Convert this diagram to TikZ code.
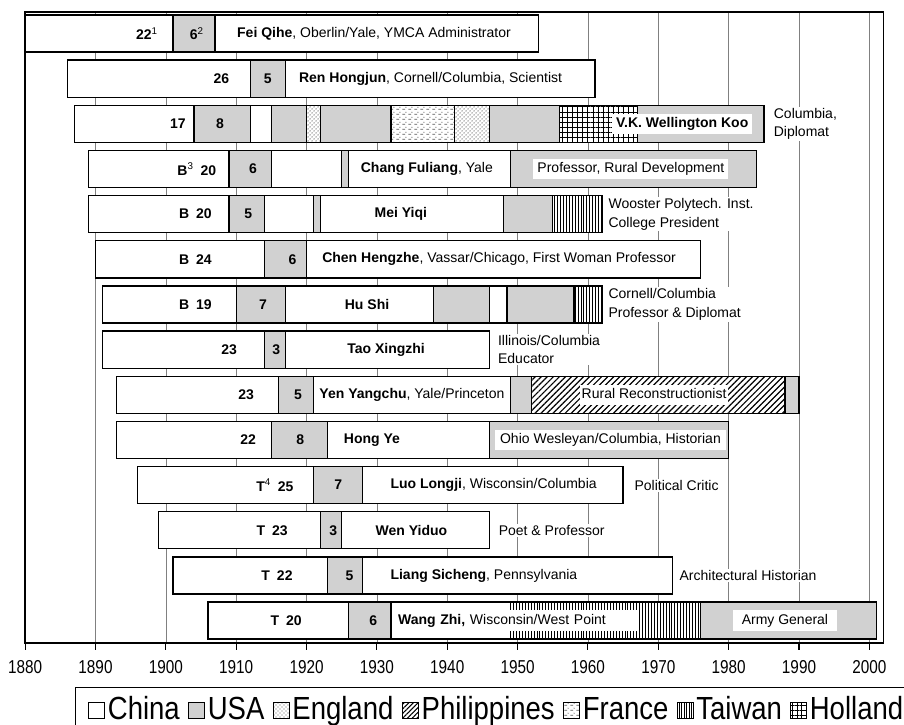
\documentclass[tikz,border=0pt]{standalone}
\usepackage{fontspec}
\setmainfont{Liberation Sans}
\newfontfamily\narrowfont[FakeStretch=0.82]{Liberation Sans}
\newfontfamily\legendfont[FakeStretch=0.86]{Liberation Sans}
\usetikzlibrary{patterns,patterns.meta,positioning}

\definecolor{usgray}{gray}{0.82}
\definecolor{gridgray}{gray}{0.5}

\tikzdeclarepattern{
  name=frdash, type=uncolored,
  bounding box={(0,0) and (4.5pt,3.6pt)},
  tile size={(4.5pt,3.6pt)},
  code={
    \fill (0.3pt,0.3pt) rectangle (2.7pt,0.9pt);
    \fill (3.4pt,2.1pt) circle (0.45pt);
  }
}

% one piece of a life bar: style, row, from year, to year
\newcommand{\lifeseg}[4]{\draw[#1] (#3,#2-0.41) rectangle (#4,#2+0.41);}

\begin{document}
\fontsize{10.5}{12.6}\selectfont
\begin{tikzpicture}[x={(5.276pt,0)}, y={(0,-33.87pt)},
  seg/.style={draw=black, line width=1pt},
  cn/.style={seg, fill=white},
  us/.style={seg, fill=usgray},
  en/.style={seg, preaction={fill=white}, pattern=crosshatch dots, pattern color=black!60},
  fr/.style={seg, preaction={fill=white}, pattern=frdash, pattern color=black!65},
  ph/.style={seg, preaction={fill=white}, pattern={Lines[angle=45,distance=3.2pt,line width=0.9pt]}},
  tw/.style={seg, preaction={fill=white}, pattern={Lines[angle=90,distance=2.2pt,line width=0.5pt]}},
  nl/.style={seg, preaction={fill=white}, pattern={Hatch[angle=0,distance=3.8pt,line width=0.5pt]}},
  num/.style={font=\bfseries, inner sep=0pt},
  who/.style={anchor=west, inner sep=0pt},
  tag/.style={fill=white, inner xsep=3pt, inner ysep=2.5pt, text height=7.8pt, text depth=2.4pt},
  note/.style={anchor=west, align=left, fill=white, inner sep=1pt, font=\fontsize{10.5}{14}\selectfont},
  yrlbl/.style={font=\narrowfont\fontsize{14}{16}\selectfont},
  key/.style={draw, line width=0.6pt, minimum size=12pt, inner sep=0pt},
  lbl/.style={font=\legendfont\fontsize{24}{27}\selectfont, inner sep=0pt, text height=17.2pt, text depth=3pt}]
\useasboundingbox (1876.45,0.258) rectangle (2004.95,16.31);

% grid and frame
\foreach \yr in {1890,1900,...,2000}
  \draw[gridgray, line width=0.5pt] (\yr,0.52) -- (\yr,14.5);
\draw[line width=1.1pt] (1880,0.52) rectangle (2002,14.5);
\foreach \yr in {1880,1890,...,2000} {
  \draw[line width=0.8pt] (\yr,14.5) -- (\yr,14.64);
  \node[yrlbl] (yr\yr) at (\yr,15.02) {\yr};
}

% Fei Qihe
\lifeseg{cn}{1}{1880}{1901}
\lifeseg{us}{1}{1901}{1907}
\lifeseg{cn}{1}{1907}{1953}
\node[num] (fei-a) at (1897.3,1) {22\textsuperscript{\mdseries 1}};
\node[num] (fei-b) at (1904.4,1) {6\textsuperscript{\mdseries 2}};
\node[who] (fei-c) at (1910.1,1) {\textbf{Fei Qihe}, Oberlin/Yale, YMCA Administrator};

% Ren Hongjun
\lifeseg{cn}{2}{1886}{1912}
\lifeseg{us}{2}{1912}{1917}
\lifeseg{cn}{2}{1917}{1961}
\node[num] (ren-a) at (1907.9,2) {26};
\node[num] (ren-b) at (1914.5,2) {5};
\node[who] (ren-c) at (1918.9,2) {\textbf{Ren Hongjun}, Cornell/Columbia, Scientist};

% Wellington Koo
\lifeseg{cn}{3}{1887}{1904}
\lifeseg{us}{3}{1904}{1912}
\lifeseg{cn}{3}{1912}{1915}
\lifeseg{us}{3}{1915}{1920}
\lifeseg{en}{3}{1920}{1922}
\lifeseg{us}{3}{1922}{1932}
\lifeseg{fr}{3}{1932}{1941}
\lifeseg{en}{3}{1941}{1946}
\lifeseg{us}{3}{1946}{1956}
\lifeseg{nl}{3}{1956}{1967}
\lifeseg{us}{3}{1967}{1985}
\node[num] (koo-a) at (1901.7,3) {17};
\node[num] (koo-b) at (1907.7,3) {8};
\node[tag, font=\bfseries] (koo-c) at (1973.4,3) {V.K. Wellington Koo};
\node[note] (koo-d) at (1986.2,3) {Columbia,\\Diplomat};

% Chang Fuliang
\lifeseg{cn}{4}{1889}{1909}
\lifeseg{us}{4}{1909}{1915}
\lifeseg{cn}{4}{1915}{1925}
\lifeseg{us}{4}{1925}{1926}
\lifeseg{cn}{4}{1926}{1949}
\lifeseg{us}{4}{1949}{1984}
\node[num] (chang-a) at (1904.4,4) {B\textsuperscript{\mdseries 3}\enspace 20};
\node[num] (chang-b) at (1912.4,4) {6};
\node[inner sep=0pt] (chang-c) at (1937.1,4) {\textbf{Chang Fuliang}, Yale};
\node[tag] (chang-d) at (1966.1,4) {Professor, Rural Development};

% Mei Yiqi
\lifeseg{cn}{5}{1889}{1909}
\lifeseg{us}{5}{1909}{1914}
\lifeseg{cn}{5}{1914}{1921}
\lifeseg{us}{5}{1921}{1922}
\lifeseg{cn}{5}{1922}{1948}
\lifeseg{us}{5}{1948}{1955}
\lifeseg{tw}{5}{1955}{1962}
\node[num] (mei-a) at (1904.2,5) {B\enspace 20};
\node[num] (mei-b) at (1911.7,5) {5};
\node[num] (mei-c) at (1933.4,5) {Mei Yiqi};
\node[note] (mei-d) at (1962.7,5) {Wooster Polytech. Inst.\\College President};

% Chen Hengzhe
\lifeseg{cn}{6}{1890}{1914}
\lifeseg{us}{6}{1914}{1920}
\lifeseg{cn}{6}{1920}{1976}
\node[num] (chen-a) at (1904.2,6) {B\enspace 24};
\node[num] (chen-b) at (1918,6) {6};
\node[who] (chen-c) at (1922.2,6) {\textbf{Chen Hengzhe}, Vassar/Chicago, First Woman Professor};

% Hu Shi
\lifeseg{cn}{7}{1891}{1910}
\lifeseg{us}{7}{1910}{1917}
\lifeseg{cn}{7}{1917}{1938}
\lifeseg{us}{7}{1938}{1946}
\lifeseg{cn}{7}{1946}{1948.5}
\lifeseg{us}{7}{1948.5}{1958}
\lifeseg{tw}{7}{1958}{1962}
\node[num] (hu-a) at (1904.2,7) {B\enspace 19};
\node[num] (hu-b) at (1913.8,7) {7};
\node[num] (hu-c) at (1928.6,7) {Hu Shi};
\node[note] (hu-d) at (1962.7,7) {Cornell/Columbia\\Professor \& Diplomat};

% Tao Xingzhi
\lifeseg{cn}{8}{1891}{1914}
\lifeseg{us}{8}{1914}{1917}
\lifeseg{cn}{8}{1917}{1946}
\node[num] (tao-a) at (1909,8) {23};
\node[num] (tao-b) at (1915.7,8) {3};
\node[num] (tao-c) at (1931.3,8) {Tao Xingzhi};
\node[note] (tao-d) at (1947,8) {Illinois/Columbia\\Educator};

% Yen Yangchu
\lifeseg{cn}{9}{1893}{1916}
\lifeseg{us}{9}{1916}{1921}
\lifeseg{cn}{9}{1921}{1949}
\lifeseg{us}{9}{1949}{1952}
\lifeseg{ph}{9}{1952}{1988}
\lifeseg{us}{9}{1988}{1990}
\node[num] (yen-a) at (1911.4,9) {23};
\node[num] (yen-b) at (1918.8,9) {5};
\node[who] (yen-c) at (1921.8,9) {\textbf{Yen Yangchu}, Yale/Princeton};
\node[tag, inner xsep=1pt] (yen-d) at (1969.4,9) {Rural Reconstructionist};

% Hong Ye
\lifeseg{cn}{10}{1893}{1915}
\lifeseg{us}{10}{1915}{1923}
\lifeseg{cn}{10}{1923}{1946}
\lifeseg{us}{10}{1946}{1980}
\node[num] (hong-a) at (1911.7,10) {22};
\node[num] (hong-b) at (1919.1,10) {8};
\node[num] (hong-c) at (1929.3,10) {Hong Ye};
\node[tag, inner xsep=4pt] (hong-d) at (1963.2,10) {Ohio Wesleyan/Columbia, Historian};

% Luo Longji
\lifeseg{cn}{11}{1896}{1921}
\lifeseg{us}{11}{1921}{1928}
\lifeseg{cn}{11}{1928}{1965}
\node[num] (luo-a) at (1915.5,11) {T\textsuperscript{\mdseries 4}\enspace 25};
\node[num] (luo-b) at (1924.5,11) {7};
\node[who] (luo-c) at (1931.9,11) {\textbf{Luo Longji}, Wisconsin/Columbia};
\node[note] (luo-d) at (1966.4,11) {Political Critic};

% Wen Yiduo
\lifeseg{cn}{12}{1899}{1922}
\lifeseg{us}{12}{1922}{1925}
\lifeseg{cn}{12}{1925}{1946}
\node[num] (wen-a) at (1915.1,12) {T\enspace 23};
\node[num] (wen-b) at (1923.8,12) {3};
\node[num] (wen-c) at (1934.9,12) {Wen Yiduo};
\node[note] (wen-d) at (1947.1,12) {Poet \& Professor};

% Liang Sicheng
\lifeseg{cn}{13}{1901}{1923}
\lifeseg{us}{13}{1923}{1928}
\lifeseg{cn}{13}{1928}{1972}
\node[num] (liang-a) at (1915.8,13) {T\enspace 22};
\node[num] (liang-b) at (1926.1,13) {5};
\node[who] (liang-c) at (1931.9,13) {\textbf{Liang Sicheng}, Pennsylvania};
\node[note] (liang-d) at (1972.8,13) {Architectural Historian};

% Wang Zhi
\lifeseg{cn}{14}{1906}{1926}
\lifeseg{us}{14}{1926}{1932}
\lifeseg{cn}{14}{1932}{1949}
\lifeseg{tw}{14}{1949}{1976}
\lifeseg{us}{14}{1976}{2001}
\node[num] (wang-a) at (1917.1,14) {T\enspace 20};
\node[num] (wang-b) at (1929.5,14) {6};
\node[who, fill=white, inner xsep=2pt, inner ysep=2.5pt, text width=178pt, text height=7.8pt, text depth=2.4pt] (wang-c) at (1932.6,14) {\textbf{Wang Zhi,} Wisconsin/West Point};
\node[tag, minimum width=78pt] (wang-d) at (1988,14) {Army General};

% legend
\draw[line width=0.8pt] (1887.1,16.5) |- (2006,15.49);
\node[key, fill=white, anchor=west] (k-cn) at (1888.96,15.98) {};
\node[lbl, right=2pt of k-cn] (l-cn) {China};
\node[key, fill=usgray, right=6pt of l-cn] (k-us) {};
\node[lbl, right=2pt of k-us] (l-us) {USA};
\node[key, preaction={fill=white}, pattern=crosshatch dots, pattern color=black!60, right=6pt of l-us] (k-en) {};
\node[lbl, right=2pt of k-en] (l-en) {England};
\node[key, preaction={fill=white}, pattern={Lines[angle=45,distance=2.5pt,line width=0.8pt]}, right=6pt of l-en] (k-ph) {};
\node[lbl, right=2pt of k-ph] (l-ph) {Philippines};
\node[key, preaction={fill=white}, pattern=frdash, pattern color=black!65, right=6pt of l-ph] (k-fr) {};
\node[lbl, right=2pt of k-fr] (l-fr) {France};
\node[key, preaction={fill=white}, pattern={Lines[angle=90,distance=1.8pt,line width=0.5pt]}, right=6pt of l-fr] (k-tw) {};
\node[lbl, right=2pt of k-tw] (l-tw) {Taiwan};
\node[key, preaction={fill=white}, pattern={Hatch[angle=0,distance=3.6pt,line width=0.5pt]}, right=6pt of l-tw] (k-nl) {};
\node[lbl, right=2pt of k-nl] (l-nl) {Holland};
\end{tikzpicture}
\end{document}
